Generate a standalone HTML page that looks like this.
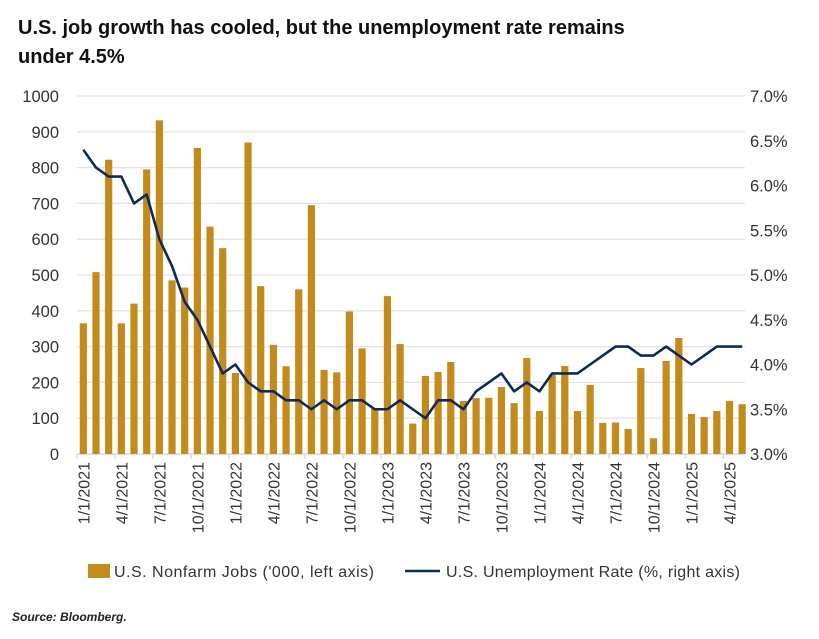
<!DOCTYPE html>
<html><head><meta charset="utf-8"><style>
body{margin:0;background:#fff;width:819px;height:634px;overflow:hidden;font-family:"Liberation Sans",sans-serif}
</style></head><body>
<svg width="819" height="634">
<text x="18" y="34" font-size="20" font-weight="bold" fill="#111">U.S. job growth has cooled, but the unemployment rate remains</text>
<text x="18" y="63" font-size="20" font-weight="bold" fill="#111">under 4.5%</text>
<g id="grid"></g><g id="bars"></g><g id="line"></g><g id="axes"></g>
<rect x="88" y="564" width="22" height="14" fill="#C48A1B"/>
<text x="114" y="577" font-size="16" fill="#333" textLength="260">U.S. Nonfarm Jobs ('000, left axis)</text>
<line x1="405" y1="571" x2="440" y2="571" stroke="#0D2B5A" stroke-width="2.5"/>
<text x="446" y="577" font-size="16" fill="#333" textLength="294">U.S. Unemployment Rate (%, right axis)</text>
<text x="12" y="621" font-size="12" font-weight="bold" font-style="italic" fill="#222">Source: Bloomberg.</text>
</svg>
<script>
const jobs=[365,508,822,365,420,795,932,485,465,855,635,575,226,870,469,305,245,460,695,235,228,398,295,128,441,307,85,218,229,257,148,156,157,187,142,268,120,221,246,120,193,87,88,70,240,44,260,324,112,103,120,148,139];
const rate=[6.4,6.2,6.1,6.1,5.8,5.9,5.4,5.1,4.7,4.5,4.2,3.9,4.0,3.8,3.7,3.7,3.6,3.6,3.5,3.6,3.5,3.6,3.6,3.5,3.5,3.6,3.5,3.4,3.6,3.6,3.5,3.7,3.8,3.9,3.7,3.8,3.7,3.9,3.9,3.9,4.0,4.1,4.2,4.2,4.1,4.1,4.2,4.1,4.0,4.1,4.2,4.2,4.2];
const leftTicks=[0,100,200,300,400,500,600,700,800,900,1000];
const rightTicks=["3.0%","3.5%","4.0%","4.5%","5.0%","5.5%","6.0%","6.5%","7.0%"];
const xLabels=["1/1/2021","4/1/2021","7/1/2021","10/1/2021","1/1/2022","4/1/2022","7/1/2022","10/1/2022","1/1/2023","4/1/2023","7/1/2023","10/1/2023","1/1/2024","4/1/2024","7/1/2024","10/1/2024","1/1/2025","4/1/2025"];
const NS="http://www.w3.org/2000/svg";
const x0=77,bw=12.67,yTop=96,yBot=454;
const xc=i=>x0+bw*(i+0.5);
const yL=v=>yBot-(v/1000)*(yBot-yTop);
const yR=v=>yBot-((v-3)/4)*(yBot-yTop);
function mk(t,a,p){const e=document.createElementNS(NS,t);for(const k in a)e.setAttribute(k,a[k]);document.getElementById(p).appendChild(e);return e;}
leftTicks.forEach((v,i)=>{
 const l=mk('line',{x1:x0,x2:745,y1:yL(v),y2:yL(v),stroke:i==0?'#d0d0d0':'#e4e2e6','stroke-width':1.3},'grid');
 
 
 const t=mk('text',{x:59,y:yL(v)+6,'text-anchor':'end','font-size':16.5,fill:'#333'},'axes');t.textContent=v;
 
 
});
rightTicks.forEach((s,i)=>{
 const t=mk('text',{x:750,y:yR(3+i*0.5)+6,'font-size':16.5,fill:'#333'},'axes');t.textContent=s;
 
 
});
jobs.forEach((v,i)=>{
 const r=mk('rect',{x:xc(i)-3.6,y:yL(v),width:7.2,height:yBot-yL(v),fill:'#C48A1B'},'bars');
 
 
});
const p=mk('polyline',{points:rate.map((v,i)=>xc(i)+','+yR(v)).join(' '),fill:'none',stroke:'#0D2B5A','stroke-width':2.6,'stroke-linejoin':'round'},'line');


xLabels.forEach((s,k)=>{
 const i=k*3;
 const tk=mk('line',{x1:x0+bw*i,x2:x0+bw*i,y1:yBot,y2:yBot+5,stroke:'#ccc'},'axes');
 
 
 const t=mk('text',{x:0,y:0,'text-anchor':'end','font-size':16,fill:'#333',transform:`translate(${xc(i)+6},${yBot+8}) rotate(-90)`},'axes');t.textContent=s;
 
 
});
</script>
</body></html>
